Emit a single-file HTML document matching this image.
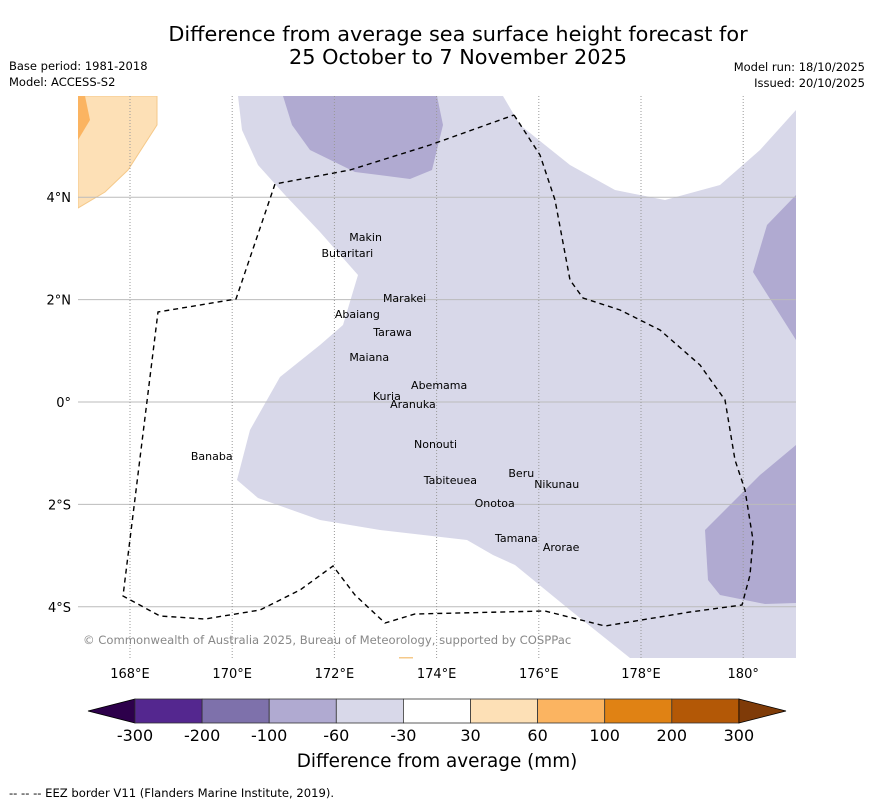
<!DOCTYPE html>
<html><head><meta charset="utf-8">
<style>
body{margin:0;background:#fff;font-family:"DejaVu Sans","Liberation Sans",sans-serif;}
svg text{font-family:"DejaVu Sans","Liberation Sans",sans-serif;}
</style></head>
<body>
<svg width="873" height="804" viewBox="0 0 873 804" xmlns="http://www.w3.org/2000/svg">
<text x="458" y="41" font-size="20.8" text-anchor="middle" fill="#000">Difference from average sea surface height forecast for</text>
<text x="458" y="64" font-size="20.8" text-anchor="middle" fill="#000">25 October to 7 November 2025</text>
<text x="9" y="70" font-size="11.5">Base period: 1981-2018</text>
<text x="9" y="86" font-size="11.5">Model: ACCESS-S2</text>
<text x="865" y="71" font-size="11.5" text-anchor="end">Model run: 18/10/2025</text>
<text x="865" y="87" font-size="11.5" text-anchor="end">Issued: 20/10/2025</text>

<g id="map">
<clipPath id="mc"><rect x="78" y="96" width="718" height="562"/></clipPath>
<g clip-path="url(#mc)">
<polygon fill="#d8d8e9" points="238,96 503,96 520,125 570,165 615,190 665,200 720,185 760,150 796,110 796,658 630,658 570,610 515,565 493,555 467,540 380,530 320,520 258,498 237,480 250,430 280,377 320,345 343,325 358,275 320,232 285,195 258,165 242,130"/>
<polygon fill="#b0aad1" points="283,96 437,96 443,125 432,170 410,179 355,172 310,150 292,125"/>
<polygon fill="#b0aad1" points="796,195 767,225 753,272 796,340"/>
<polygon fill="#b0aad1" points="796,445 760,475 705,530 708,580 720,595 765,604 796,603"/>
<polygon fill="#fde0b6" stroke="#f5c98a" stroke-width="1" points="78,96 157,96 157,125 128,170 105,192 78,208"/>
<polygon fill="#fbb461" points="78,96 85,96 90,120 78,140"/>
</g>
<g id="grid"></g>
<polyline fill="none" stroke="#000" stroke-width="1.4" stroke-dasharray="5,4" points="514,115 540,155 555,200 570,280 583,298 620,310 660,330 700,365 725,400 735,460 745,490 753,540 750,575 742,605 690,612 605,626 545,611 415,614 385,623 355,595 333,566 300,590 260,610 205,619 160,616 123,596 158,312 236,299 275,184 350,170 430,145 514,115"/>
<g id="islands" font-size="11" fill="#000"></g>
<text x="83" y="644" font-size="11.6" fill="#888">© Commonwealth of Australia 2025, Bureau of Meteorology, supported by COSPPac</text>
<rect x="399" y="657" width="14" height="1.5" fill="#f5c98a"/>
</g>
<g id="axes"></g>
<g id="cbar"></g>
<text x="437" y="767" font-size="18.4" text-anchor="middle">Difference from average (mm)</text>
<text x="9" y="797" font-size="11.6">--  --  -- EEZ border V11 (Flanders Marine Institute, 2019).</text>
</svg>
<script>
const lonTicks=[168,170,172,174,176,178,180];
const lonLabels=["168°E","170°E","172°E","174°E","176°E","178°E","180°"];
const latTicks=[4,2,0,-2,-4];
const latLabels=["4°N","2°N","0°","2°S","4°S"];
const cbarBounds=["-300","-200","-100","-60","-30","30","60","100","200","300"];
const cbarColors=["#54278f","#7e71ab","#b0aad1","#d8d8e9","#ffffff","#fde0b6","#fbb461","#e08214","#b35806"];
const islandNames=["Makin","Butaritari","Marakei","Abaiang","Tarawa","Maiana","Abemama","Kuria","Aranuka","Nonouti","Banaba","Tabiteuea","Beru","Nikunau","Onotoa","Tamana","Arorae"];
const islandLon=[172.93,172.76,172.95,172.89,172.76,173.07,173.50,173.30,173.09,174.40,169.60,174.79,175.91,175.91,175.53,175.98,176.08];
const islandLat=[3.22,2.91,2.03,1.72,1.37,0.88,0.33,0.12,-0.04,-0.82,-1.05,-1.52,-1.39,-1.60,-1.97,-2.66,-2.83];
const islandAnchor=["end","end","start","end","start","end","start","end","start","end","middle","end","end","start","end","end","start"];
const ns="http://www.w3.org/2000/svg";
const X=lon=>130+(lon-168)*51.1;
const Y=lat=>402-lat*51.2;
function mk(t,a,p){const e=document.createElementNS(ns,t);for(const k in a)e.setAttribute(k,a[k]);p.appendChild(e);return e;}
const grid=document.getElementById('grid');
latTicks.forEach(v=>{const l=mk('line',{x1:78,x2:796,y1:Y(v),y2:Y(v),stroke:'#bbb','stroke-width':1},grid);

});
lonTicks.forEach(v=>{const l=mk('line',{x1:X(v),x2:X(v),y1:96,y2:658,stroke:'#999','stroke-width':1,'stroke-dasharray':'1,2'},grid);

});
const axes=document.getElementById('axes');
lonTicks.forEach((v,i)=>{const t=mk('text',{x:X(v),y:678,'font-size':13,'text-anchor':'middle'},axes);t.textContent=lonLabels[i];

});
latTicks.forEach((v,i)=>{const t=mk('text',{x:71,y:Y(v)+5,'font-size':13,'text-anchor':'end'},axes);t.textContent=latLabels[i];

});
const isl=document.getElementById('islands');
islandNames.forEach((n,i)=>{const t=mk('text',{x:X(islandLon[i]),y:Y(islandLat[i])+4,'text-anchor':islandAnchor[i]},isl);t.textContent=n;

});
const cb=document.getElementById('cbar');
const c0=135,cw=67.1,cy=699,ch=24;
const lt=mk('polygon',{points:`88,711 ${c0},${cy} ${c0},${cy+ch}`,fill:'#2d004b',stroke:'#000','stroke-width':0.8},cb);


cbarColors.forEach((c,i)=>{const r=mk('rect',{x:c0+i*cw,y:cy,width:cw,height:ch,fill:c,stroke:'#333','stroke-width':0.8},cb);

});
const xe=c0+cbarColors.length*cw;
const rt=mk('polygon',{points:`${xe},${cy} 786,711 ${xe},${cy+ch}`,fill:'#7f3b08',stroke:'#000','stroke-width':0.8},cb);


cbarBounds.forEach((b,i)=>{const t=mk('text',{x:c0+i*cw,y:741,'font-size':16,'text-anchor':'middle'},cb);t.textContent=b;

});
</script>
</body></html>
